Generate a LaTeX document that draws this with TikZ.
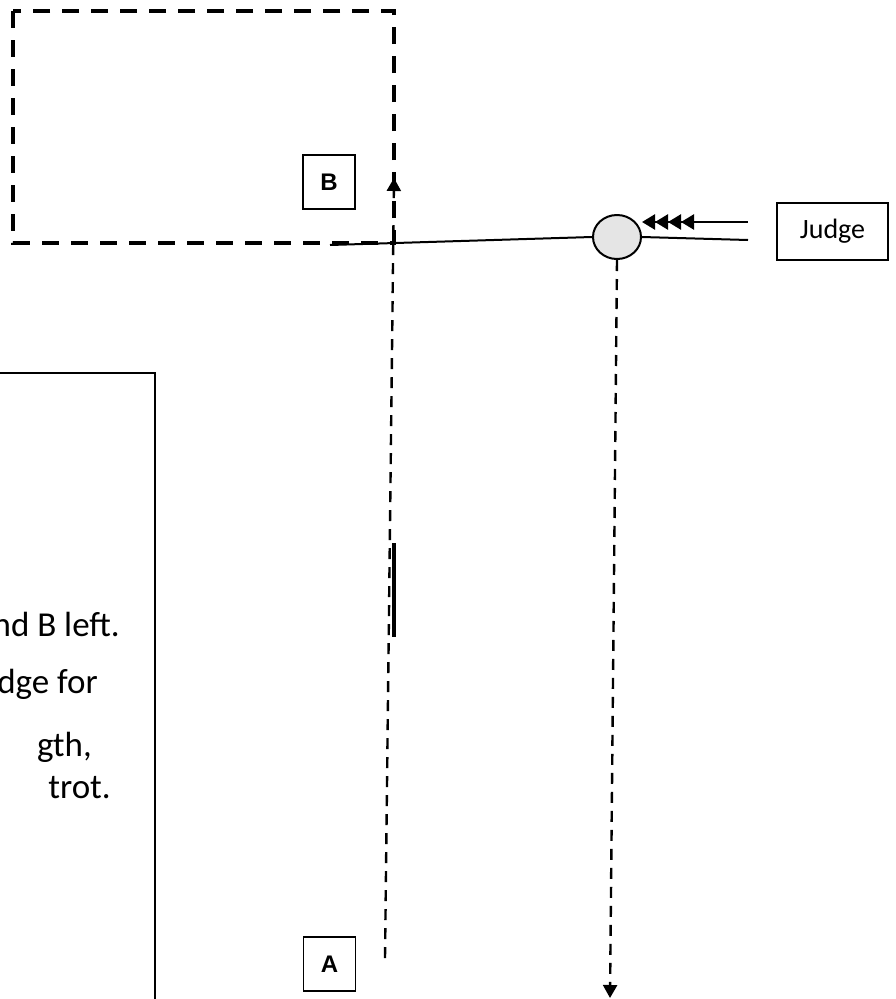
\documentclass[tikz,border=0pt]{standalone}
\usepackage{fontspec}
\setmainfont{Carlito}
\newfontfamily\arialfont{Liberation Sans}
\usetikzlibrary{arrows.meta,shapes.geometric}

\begin{document}
\begin{tikzpicture}[x=1pt, y=-1pt,
  every node/.style = {inner sep=0pt},
  letterbox/.style = {draw, line width=1.2pt, minimum width=52pt, minimum height=54pt,
    font=\arialfont\bfseries\fontsize{24}{24}\selectfont},
  notetext/.style = {anchor=base east, font=\fontsize{35}{35}\selectfont},
  trackline/.style = {line width=2.4pt, dash pattern=on 11pt off 8pt},
  headtip/.style = {-{Triangle[length=13pt,width=14pt]}}]
  \useasboundingbox (0,0) rectangle (895,999);

  % arena and text panel
  \draw[line width=4pt, dash pattern=on 17pt off 12pt] (13,11) rectangle (394,243);
  \draw[line width=1.5pt] (-10,373) -| (155,1010);
  \node[notetext] (noteone) at (120,636) {nd B left.};
  \node[notetext] (notetwo) at (98,693) {dge for};
  \node[notetext] (notethree) at (92,756) {gth,};
  \node[notetext] (notefour) at (111,798) {trot.};

  % markers and judge
  \node[letterbox] (boxB) at (329,182) {B};
  \node[letterbox] (boxA) at (329.5,964) {A};
  \node[draw, line width=1.2pt, minimum width=111pt, minimum height=57pt,
    font=\fontsize{28}{28}\selectfont] (judge) at (832.5,231.5) {Judge};
  \node[ellipse, draw, line width=2pt, fill=black!10,
    minimum width=48pt, minimum height=44pt] (spot) at (617,237) {};

  \coordinate (lineW) at (330,245);
  \coordinate (lineE) at (748,240);
  \coordinate (lookW) at (642,222);
  \coordinate (lookE) at (748,222);
  \coordinate (upS) at (385,958);
  \coordinate (upN) at (394,178);
  \coordinate (downS) at (610,998);

  \draw[line width=2pt] (lineW) -- (spot.west);
  \draw[line width=2pt] (spot.east) -- (lineE);
  \draw[line width=2.5pt, {Triangle[length=13pt,width=15pt] Triangle[length=13pt,width=15pt]
    Triangle[length=13pt,width=15pt] Triangle[length=13pt,width=15pt]}-] (lookW) -- (lookE);
  \draw[trackline, headtip] (upS) -- (upN);
  \draw[trackline, headtip] (spot.south) -- (downS);
  \draw[line width=4.5pt] (394,543) -- (394,637);
\end{tikzpicture}
\end{document}
